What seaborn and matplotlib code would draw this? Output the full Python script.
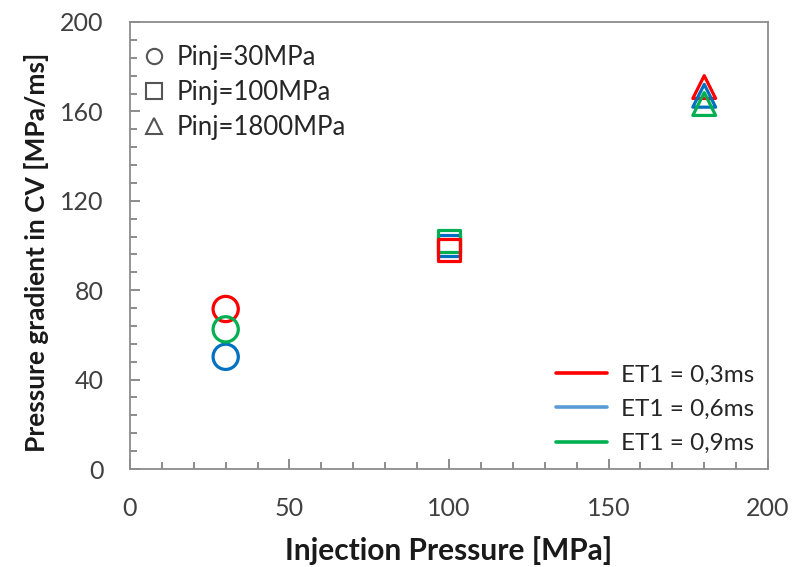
import numpy as np
import pandas as pd
import matplotlib
matplotlib.use("Agg")
import matplotlib.pyplot as plt
from matplotlib.lines import Line2D
from matplotlib.ticker import MultipleLocator
import seaborn as sns

# Injection pressure (x) and pressure gradient in the control volume per ET1
pressure = [30, 100, 180]
grad_et03 = [71.6, 98.0, 170.9]
grad_et06 = [50.2, 100.0, 167.0]
grad_et09 = [62.5, 102.0, 163.3]

series_labels = ["ET1 = 0,3ms", "ET1 = 0,6ms", "ET1 = 0,9ms"]
marker_labels = ["Pinj=30MPa", "Pinj=100MPa", "Pinj=1800MPa"]

# drawing order of the series at each pressure (last one ends up on top)
draw_order = {30: [0, 1, 2], 100: [1, 2, 0], 180: [0, 1, 2]}

series_vals = [grad_et03, grad_et06, grad_et09]
rows = []
for i, p in enumerate(pressure):
    for k in draw_order[p]:
        rows.append({"Pinj": p, "grad": series_vals[k][i], "ET1": series_labels[k]})
df = pd.DataFrame(rows)

sns.set_theme(style="white")
plt.rcParams["font.family"] = ["Lato", "DejaVu Sans"]

palette = {series_labels[0]: "#FF0000", series_labels[1]: "#0070C0", series_labels[2]: "#00B050"}
line_cols = ["#FF0000", "#5B9BD5", "#00B050"]
markers = {30: "o", 100: "s", 180: "^"}
sizes = {30: 330, 100: 250, 180: 270}

fig = plt.figure(figsize=(7.94, 5.67), dpi=100)
ax = fig.add_axes([0.1637, 0.1728, 0.8036, 0.7884])

sns.scatterplot(data=df, x="Pinj", y="grad", hue="ET1", style="Pinj", size="Pinj",
                palette=palette, markers=markers, sizes=sizes, legend=False, ax=ax,
                linewidth=2.3, zorder=3)

# open markers: edge takes the hue colour, face left empty
for coll in ax.collections:
    fc = coll.get_facecolors()
    coll.set_edgecolors(fc)
    coll.set_facecolors("none")
    coll.set_linewidths(2.3)

ax.set_xlim(0, 200)
ax.set_ylim(0, 200)
ax.xaxis.set_major_locator(MultipleLocator(50))
ax.xaxis.set_minor_locator(MultipleLocator(10))
ax.yaxis.set_major_locator(MultipleLocator(40))
ax.yaxis.set_minor_locator(MultipleLocator(8))

frame_col = "#8C8C8C"
for sp in ax.spines.values():
    sp.set_color(frame_col)
    sp.set_linewidth(1.3)
ax.tick_params(axis="both", which="major", direction="in", length=7, width=1.1,
               color="#6E6E6E", labelsize=18, labelcolor="#404040")
ax.tick_params(axis="both", which="minor", direction="in", length=5, width=1.1,
               color="#6E6E6E")
ax.tick_params(axis="y", which="both", left=True, right=False)
ax.tick_params(axis="x", which="both", bottom=True, top=False)
ax.tick_params(axis="y", which="major", pad=19)
ax.tick_params(axis="x", which="major", pad=20)

ax.set_xlabel("Injection Pressure [MPa]", fontsize=21.5, fontweight="bold", color="#1A1A1A", labelpad=12)
ax.set_ylabel("Pressure gradient in CV [MPa/ms]", fontsize=19, fontweight="bold", color="#1A1A1A")
ax.yaxis.set_label_coords(-0.127, 0.485)

# marker-shape legend
shape_handles = [Line2D([], [], linestyle="none", marker=m, markersize=11, markerfacecolor="none",
                        markeredgecolor="#555555", markeredgewidth=1.5)
                 for m in ["o", "s", "^"]]
leg1 = ax.legend(shape_handles, marker_labels, loc="upper left", bbox_to_anchor=(-0.02, 1.005),
                 frameon=False, fontsize=18.5, handlelength=0.9, handletextpad=0.4,
                 labelspacing=0.38, borderaxespad=0.6)
for t in leg1.get_texts():
    t.set_color("#262626")
ax.add_artist(leg1)

# ET1 colour legend
line_handles = [Line2D([], [], color=c, linewidth=2.6) for c in line_cols]
leg2 = ax.legend(line_handles, series_labels, loc="lower right", bbox_to_anchor=(1.012, -0.016),
                 frameon=False, fontsize=17.5, handlelength=2.1, handletextpad=0.55,
                 labelspacing=0.55)
for t in leg2.get_texts():
    t.set_color("#262626")

fig.savefig("out.png", dpi=100)
